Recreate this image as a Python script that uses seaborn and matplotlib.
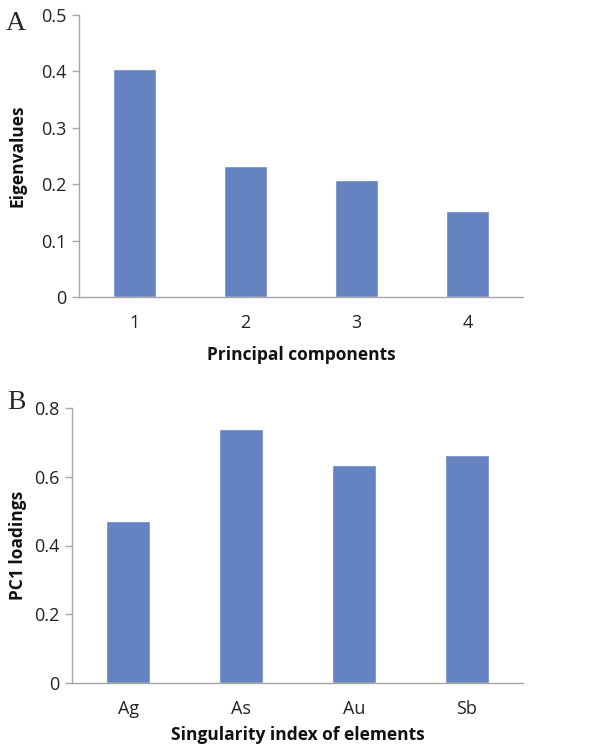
import matplotlib
matplotlib.use("Agg")
import matplotlib.pyplot as plt
import seaborn as sns
import pandas as pd
import numpy as np

components = ["1", "2", "3", "4"]
eigenvalues = [0.404, 0.232, 0.208, 0.152]
elements = ["Ag", "As", "Au", "Sb"]
pc1_loadings = [0.472, 0.740, 0.634, 0.664]
yticks_a = [0, 0.1, 0.2, 0.3, 0.4, 0.5]
ytick_labels_a = ["0", "0.1", "0.2", "0.3", "0.4", "0.5"]
yticks_b = [0, 0.2, 0.4, 0.6, 0.8]
ytick_labels_b = ["0", "0.2", "0.4", "0.6", "0.8"]

sns.set_style("white")
plt.rcParams["font.family"] = ["Open Sans", "DejaVu Sans"]

BAR = "#6483C0"
AX = "#A6A6A6"

fig = plt.figure(figsize=(6.03, 7.48), dpi=100)
W, H = 603, 748

def style(ax, yticks, ylabels, ymax, xlabel, ylabel, xlabelpad):
    ax.set_ylim(0, ymax)
    ax.set_xlim(-0.5, 3.5)
    ax.set_yticks(yticks)
    ax.set_yticklabels(ylabels, fontsize=13, color="#222222")
    ax.set_xticks(range(4))
    ax.set_xticks(np.arange(-0.5, 4.0, 1.0), minor=True)
    ax.tick_params(axis="x", which="major", length=0, pad=12, labelsize=13, labelcolor="#222222")
    ax.tick_params(axis="x", which="minor", length=5, width=1, color=AX, direction="out")
    ax.tick_params(axis="y", length=5, width=1, color=AX, direction="out", left=True, pad=4)
    for s in ["top", "right"]:
        ax.spines[s].set_visible(False)
    for s in ["left", "bottom"]:
        ax.spines[s].set_color(AX)
        ax.spines[s].set_linewidth(1)
    ax.set_xlabel(xlabel, fontsize=12.5, fontweight="bold", labelpad=xlabelpad, color="#111111")
    ax.set_ylabel(ylabel, fontsize=12.5, fontweight="bold", color="#111111", va="center")

# Panel A
axA = fig.add_axes([79 / W, (H - 297) / H, 444 / W, (297 - 15) / H])
dfA = pd.DataFrame({"comp": components, "val": eigenvalues})
sns.barplot(data=dfA, x="comp", y="val", ax=axA, color=BAR, width=0.39, saturation=1)
style(axA, yticks_a, ytick_labels_a, 0.5, "Principal components", "Eigenvalues", 10)
axA.yaxis.set_label_coords((18 - 79) / 444, 0.5)

# Panel B
axB = fig.add_axes([72 / W, (H - 683) / H, 451 / W, (683 - 408) / H])
dfB = pd.DataFrame({"elem": elements, "val": pc1_loadings})
sns.barplot(data=dfB, x="elem", y="val", ax=axB, color=BAR, width=0.39, saturation=1)
style(axB, yticks_b, ytick_labels_b, 0.8, "Singularity index of elements", "PC1 loadings", 6)
axB.yaxis.set_label_coords((18 - 72) / 451, 0.5)

fig.text(16 / W, 1 - 23 / H, "A", fontsize=20, family="Liberation Serif", va="center", ha="center")
fig.text(16 / W, 1 - 402 / H, "B", fontsize=20, family="Liberation Serif", va="center", ha="center")

fig.savefig("out.png", dpi=100, facecolor="white")
